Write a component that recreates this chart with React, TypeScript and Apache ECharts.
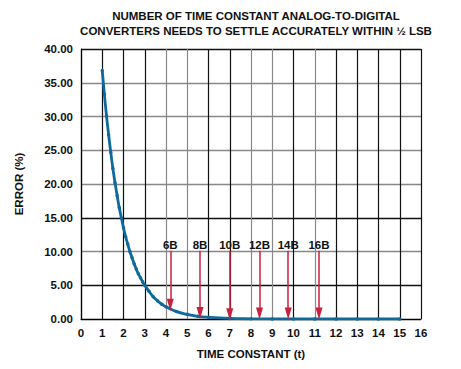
import React, { useEffect, useRef } from "react";
import * as echarts from "echarts";

const titleLines = [
  "NUMBER OF TIME CONSTANT ANALOG-TO-DIGITAL",
  "CONVERTERS NEEDS TO SETTLE ACCURATELY WITHIN ½ LSB",
];
const xName = "TIME CONSTANT (t)";
const yName = "ERROR (%)";

const timeValues = [
  1.0, 1.1, 1.2, 1.3, 1.4, 1.5, 1.6, 1.7, 1.8, 1.9, 2.0, 2.1, 2.2, 2.3, 2.4,
  2.5, 2.6, 2.7, 2.8, 2.9, 3.0, 3.2, 3.4, 3.6, 3.8, 4.0, 4.5, 5.0, 5.5, 6.0,
  7.0, 8.0, 9.0, 10.0, 11.0, 12.0, 13.0, 14.0, 15.0,
];
const errorValues = [
  36.8, 33.3, 30.1, 27.3, 24.7, 22.3, 20.2, 18.3, 16.5, 15.0, 13.5, 12.2, 11.1,
  10.0, 9.1, 8.2, 7.4, 6.7, 6.1, 5.5, 5.0, 4.1, 3.3, 2.7, 2.2, 1.8, 1.1, 0.7,
  0.4, 0.25, 0.09, 0.03, 0.01, 0.0, 0.0, 0.0, 0.0, 0.0, 0.0,
];

const bitLabels = ["6B", "8B", "10B", "12B", "14B", "16B"];
const arrowX = [4.2, 5.6, 7.0, 8.4, 9.75, 11.2];
const arrowTop = [10.1, 10.1, 10.1, 10.1, 10.1, 10.1];
const arrowTip = [2.1, 0.9, 0.7, 0.8, 0.8, 0.8];

const yTickColors = ["#000", "#111", "#888", "#111", "#888", "#888", "#888", "#888", "#111"];
const xTickColors = [
  "#111", "#111", "#111", "#111", "#888", "#888", "#111", "#111", "#888",
  "#888", "#111", "#888", "#111", "#111", "#111", "#111", "#111",
];

export default function App() {
  const ref = useRef<HTMLDivElement>(null);
  useEffect(() => {
    if (!ref.current) return;
    const chart = echarts.init(ref.current, undefined, { renderer: "svg" });
    const font = "'Liberation Sans', Arial, sans-serif";
    chart.setOption({
      animation: false,
      backgroundColor: "#fff",
      title: {
        text: titleLines.join("\n"),
        left: 251,
        top: 3,
        textAlign: "center",
        textStyle: {
          fontFamily: font,
          fontWeight: "bold",
          fontSize: 11.5,
          lineHeight: 15,
          color: "#111",
        },
      },
      grid: { left: 81, top: 49, width: 340, height: 270 },
      xAxis: {
        type: "value",
        min: 0,
        max: 16,
        interval: 1,
        name: xName,
        nameLocation: "middle",
        nameGap: 29,
        nameTextStyle: { fontFamily: font, fontWeight: "bold", fontSize: 11.5, color: "#111" },
        axisLine: { lineStyle: { color: "#000", width: 1.2 } },
        axisTick: { show: false },
        axisLabel: { fontFamily: font, fontWeight: "bold", fontSize: 11.5, color: "#111", margin: 8 },
        splitLine: { show: true, lineStyle: { color: xTickColors, width: 1.2 } },
      },
      yAxis: {
        type: "value",
        min: 0,
        max: 40,
        interval: 5,
        name: yName,
        nameLocation: "middle",
        nameGap: 56,
        nameTextStyle: { fontFamily: font, fontWeight: "bold", fontSize: 11.5, color: "#111" },
        axisLine: { show: true, lineStyle: { color: "#000", width: 1.2 } },
        axisTick: { show: false },
        axisLabel: {
          fontFamily: font,
          fontWeight: "bold",
          fontSize: 11.5,
          color: "#111",
          margin: 8,
          formatter: (v: number) => v.toFixed(2),
        },
        splitLine: { show: true, lineStyle: { color: yTickColors, width: 1.4 } },
      },
      series: [
        {
          type: "line",
          data: timeValues.map((t, i) => [t, errorValues[i]]),
          smooth: true,
          symbol: "circle",
          symbolSize: 3.5,
          showSymbol: true,
          lineStyle: { color: "#0e6a9a", width: 2.8 },
          itemStyle: { color: "#0e6a9a" },
          z: 3,
        },
        {
          type: "line",
          data: [],
          markLine: {
            silent: true,
            symbol: ["none", "triangle"],
            symbolSize: [7, 12],
            symbolRotate: 180,
            lineStyle: { color: "#c8203f", width: 1.5, type: "solid" },
            label: {
              show: true,
              position: "start",
              formatter: (p: any) => p.name,
              fontFamily: font,
              fontWeight: "bold",
              fontSize: 11.5,
              color: "#111",
              distance: 0,
            },
            data: bitLabels.map((b, i) => [
              { name: b, coord: [arrowX[i], arrowTop[i]] },
              { coord: [arrowX[i], arrowTip[i]] },
            ]),
          },
          z: 4,
        },
      ],
    });
    return () => chart.dispose();
  }, []);
  return (
    <div
      ref={ref}
      style={{ position: "absolute", left: 0, top: 0, width: 461, height: 369 }}
    />
  );
}
